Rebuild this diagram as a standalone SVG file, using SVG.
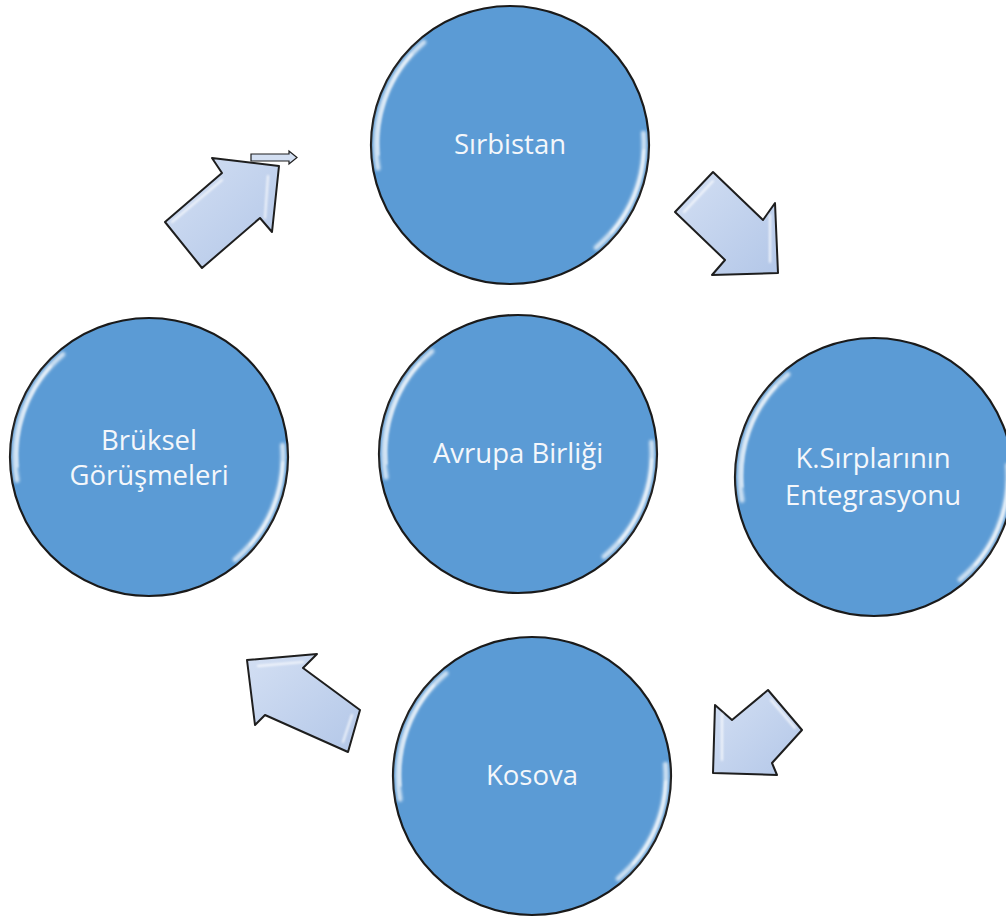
<svg xmlns="http://www.w3.org/2000/svg" xmlns:xlink="http://www.w3.org/1999/xlink" width="1006" height="917" viewBox="0 0 1006 917">
<style>
.lbl{font-family:"Open Sans","Liberation Sans",sans-serif;font-size:27.5px;fill:#f4f7fb;text-anchor:middle}
.arrow{fill:url(#ag);stroke:#1e1e1e;stroke-width:2;stroke-linejoin:round}
.hl{fill:none;stroke:#ffffff;stroke-linecap:round}
</style>
<defs>
<linearGradient id="ag" x1="0" y1="0" x2="1" y2="1">
<stop offset="0" stop-color="#d3dff3"/>
<stop offset="1" stop-color="#b3c7e8"/>
</linearGradient>
<filter id="soft" x="-20%" y="-20%" width="140%" height="140%"><feGaussianBlur stdDeviation="1.8"/></filter>
<filter id="soft2" x="-20%" y="-20%" width="140%" height="140%"><feGaussianBlur stdDeviation="0.8"/></filter>
<g id="ball">
<circle r="139" fill="#5b9bd5" stroke="#1a1a1a" stroke-width="2.2"/>
<g filter="url(#soft)">
<path class="hl" d="M -132.0 23.3 A 134 134 0 0 1 -86.1 -102.7" stroke-width="5" stroke-opacity="0.7"/>
<path class="hl" d="M 133.5 -11.7 A 134 134 0 0 1 86.1 102.7" stroke-width="5" stroke-opacity="0.7"/>
</g>
<path class="hl" d="M -131.5 10 A 134 134 0 0 1 -98 -91" stroke-width="1.6" stroke-opacity="0.9" filter="url(#soft2)"/>
<path class="hl" d="M 133.8 5 A 134 134 0 0 1 101 88" stroke-width="1.6" stroke-opacity="0.9" filter="url(#soft2)"/>
</g>
</defs>
<rect width="1006" height="917" fill="#ffffff"/>

<g id="connectors">
<g id="arrow-bruksel-sirbistan">
<polygon class="arrow" points="165,222 222,173 212,158 279,166 272,232 260,218 202,268"/>
<path class="hl" d="M 172,222 L 222,180 M 268,176 L 265,218" stroke-width="2" stroke-opacity="0.8" filter="url(#soft2)"/>
<polygon points="251,154 289,154 289,151 297,157.5 289,164 289,161 251,161" fill="#d3dff2" stroke="#1e1e1e" stroke-width="1.2"/>
</g>
<g id="arrow-sirbistan-kosirp">
<polygon class="arrow" points="713,172 763,220 775,203 778,273 712,275 725,260 675,212"/>
<path class="hl" d="M 684,212 L 713,181 M 770,215 L 770,262" stroke-width="2" stroke-opacity="0.8" filter="url(#soft2)"/>
</g>
<g id="arrow-kosirp-kosova">
<polygon class="arrow" points="768,690 802,730 772,763 777,775 713,773 715,705 732,720"/>
<path class="hl" d="M 771,700 L 795,728 M 722,714 L 722,760" stroke-width="2" stroke-opacity="0.8" filter="url(#soft2)"/>
</g>
<g id="arrow-kosova-bruksel">
<polygon class="arrow" points="247,660 317,654 303,668 360,710 348,752 265,715 255,725"/>
<path class="hl" d="M 258,666 L 303,662 M 352,715 L 343,742" stroke-width="2" stroke-opacity="0.8" filter="url(#soft2)"/>
</g>
</g>

<g id="node-sirbistan" transform="translate(510,145)">
<use xlink:href="#ball"/>
<text class="lbl" x="0" y="9">Sırbistan</text>
</g>
<g id="node-avrupa" transform="translate(518,454)">
<use xlink:href="#ball"/>
<text class="lbl" x="0" y="9">Avrupa Birliği</text>
</g>
<g id="node-bruksel" transform="translate(149,457)">
<use xlink:href="#ball"/>
<text class="lbl" x="0" y="-7">Brüksel</text>
<text class="lbl" x="0" y="28">Görüşmeleri</text>
</g>
<g id="node-kosirp" transform="translate(874,477)">
<use xlink:href="#ball"/>
<text class="lbl" x="-1" y="-9">K.Sırplarının</text>
<text class="lbl" x="-1" y="28">Entegrasyonu</text>
</g>
<g id="node-kosova" transform="translate(532,776)">
<use xlink:href="#ball"/>
<text class="lbl" x="0" y="9">Kosova</text>
</g>
</svg>
